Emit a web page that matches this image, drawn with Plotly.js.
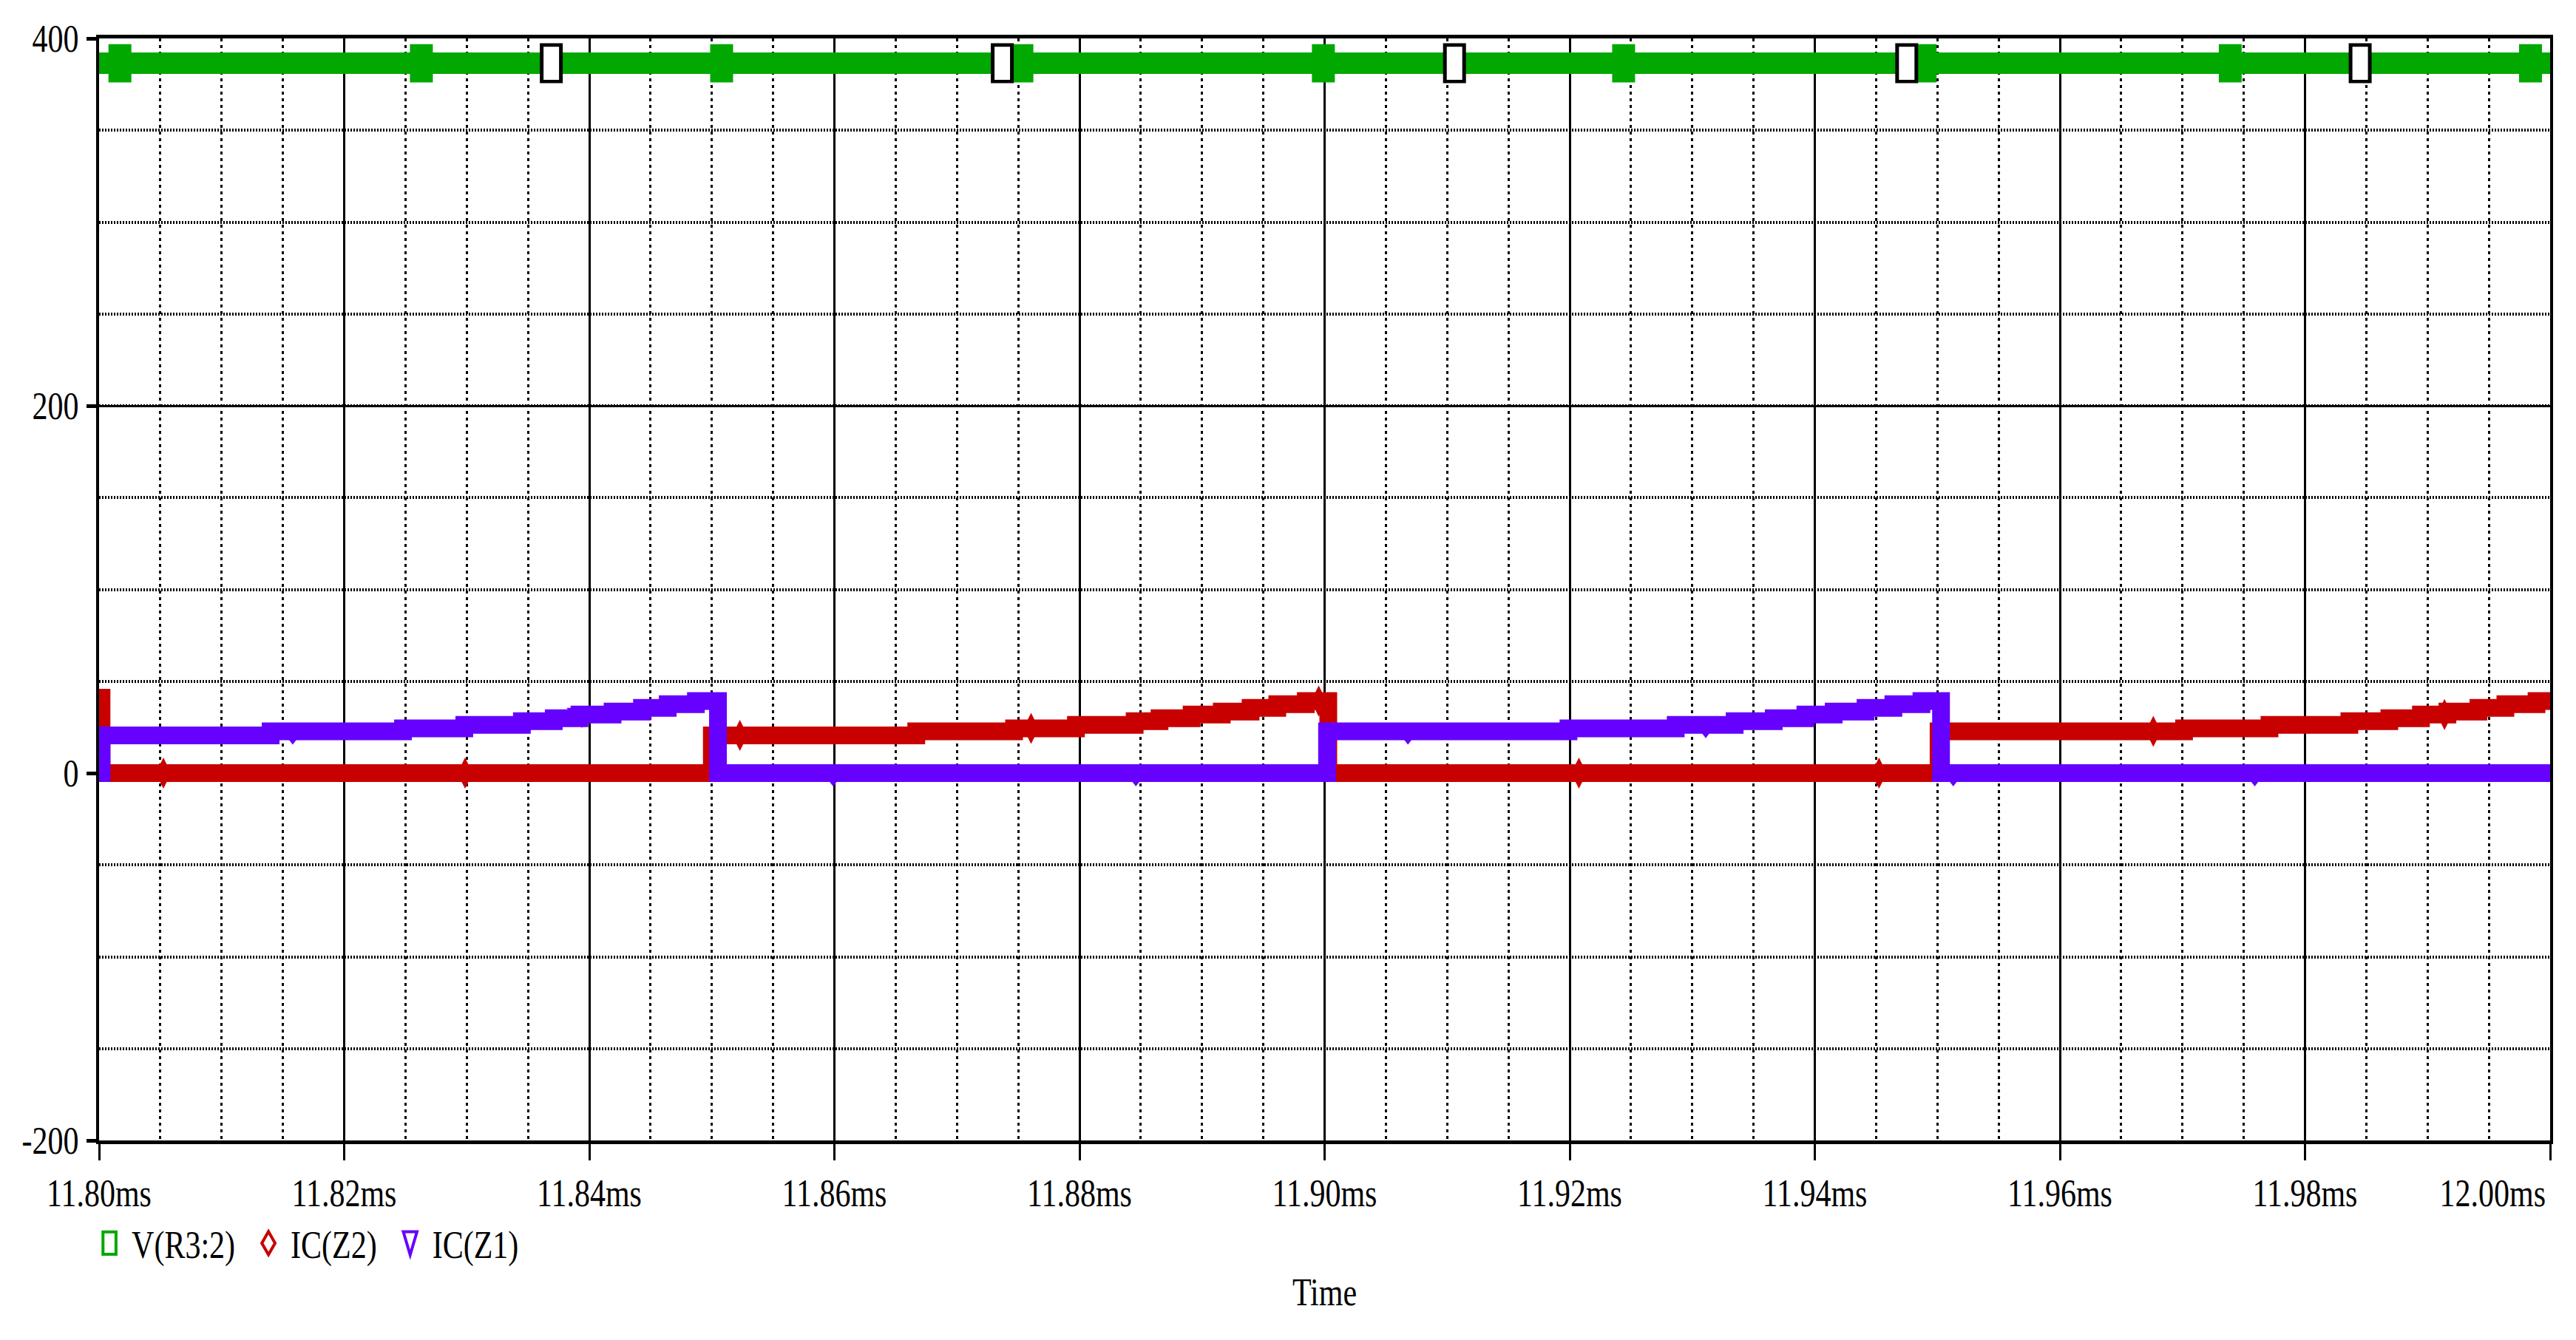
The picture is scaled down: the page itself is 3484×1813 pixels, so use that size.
<!DOCTYPE html>
<html>
<head>
<meta charset="utf-8">
<script src="https://cdn.plot.ly/plotly-3.0.1.min.js"></script>
<style>
  html, body { margin: 0; padding: 0; background: #ffffff; }
  #chart { width: 3484px; height: 1813px; }
</style>
</head>
<body>
<div id="chart"></div>
<script>
// ---------------- data (time in ms) ----------------
const seriesNames = ['V(R3:2)', 'IC(Z2)', 'IC(Z1)'];

const vR3Time  = [11.80, 12.00];
const vR3Value = [386.5, 386.5];

const icZ2Time  = [11.8000, 11.8002, 11.8500, 11.86668, 11.87466, 11.87971, 11.88450, 11.88653, 11.88915, 11.89161, 11.89396, 11.89614, 11.89847, 11.9003,
                   11.9501, 11.97013, 11.97710, 11.98362, 11.98688, 11.98946, 11.99162, 11.99415, 11.99635, 11.99889, 12.0000];
const icZ2Value = [41, 0, 20.5, 22.7, 24.3, 26.3, 28.3, 29.9, 31.9, 33.5, 35.5, 37.5, 39.2, 0,
                   22.7, 24.3, 26.3, 28.3, 29.9, 31.9, 33.5, 35.5, 37.5, 39.2, 39.2];

const icZ1Time  = [11.8000, 11.8002, 11.8140, 11.8248, 11.8298, 11.8345, 11.8371, 11.8392, 11.8419, 11.8443, 11.8464, 11.8487, 11.8505,
                   11.9002, 11.9199, 11.92865, 11.93346, 11.93665, 11.93923, 11.94154, 11.94414, 11.94641, 11.94870, 11.9503, 12.0000];
const icZ1Value = [0, 20.5, 22.7, 24.3, 26.3, 28.3, 29.9, 31.9, 33.5, 35.5, 37.5, 39.2, 0,
                   22.7, 24.3, 26.3, 28.3, 29.9, 31.9, 33.5, 35.5, 37.5, 39.2, 0, 0];

// symbol markers drawn along each trace
const vR3FilledTimes  = [11.8017, 11.8263, 11.8508, 11.8753, 11.8999, 11.9244, 11.9490, 11.9739, 11.9984];
const vR3FilledValues = [386.5, 386.5, 386.5, 386.5, 386.5, 386.5, 386.5, 386.5, 386.5];
const vR3HollowTimes  = [11.8369, 11.8737, 11.9106, 11.9475, 11.9845];
const vR3HollowValues = [386.5, 386.5, 386.5, 386.5, 386.5];
const icZ2MarkTimes   = [11.80525, 11.82986, 11.85229, 11.87605, 11.89952, 11.92075, 11.94524, 11.96762, 11.99138];
const icZ2MarkValues  = [0, 0, 20.5, 24.3, 39.2, 0, 0, 22.7, 31.9];
const icZ1MarkTimes   = [11.8158, 11.8394, 11.8599, 11.8846, 11.9068, 11.9311, 11.9513, 11.9759];
const icZ1MarkValues  = [22.7, 31.9, 0, 0, 22.7, 26.3, 0, 0];

// axes ticks
const xTickVals = [11.80, 11.82, 11.84, 11.86, 11.88, 11.90, 11.92, 11.94, 11.96, 11.98, 12.00];
const xTickText = ['11.80ms', '11.82ms', '11.84ms', '11.86ms', '11.88ms', '11.90ms', '11.92ms', '11.94ms', '11.96ms', '11.98ms', '12.00ms'];
const yTickVals = [-200, 0, 200, 400];
const yTickText = ['-200', '0', '200', '400'];

// ---------------- styles ----------------
const GREEN = '#00a800', RED = '#c80000', PURPLE = '#6600ff';
const FONT = { family: 'Liberation Serif, DejaVu Serif, serif', size: 42, color: '#000000' };

const traces = [
  { type: 'scatter', mode: 'lines', x: vR3Time, y: vR3Value, line: { color: GREEN, width: 29 }, showlegend: false },
  { type: 'scatter', mode: 'markers', x: vR3FilledTimes, y: vR3FilledValues, cliponaxis: false, showlegend: false,
    marker: { symbol: 'line-ns', size: 37, color: GREEN, line: { color: GREEN, width: 31 } } },
  { type: 'scatter', mode: 'markers', x: vR3HollowTimes, y: vR3HollowValues, cliponaxis: false, showlegend: false,
    marker: { symbol: 'line-ns', size: 38.6, color: '#000', line: { color: '#000', width: 31 } } },
  { type: 'scatter', mode: 'markers', x: vR3HollowTimes, y: vR3HollowValues, cliponaxis: false, showlegend: false,
    marker: { symbol: 'line-ns', size: 32, color: '#fff', line: { color: '#fff', width: 21 } } },

  { type: 'scatter', mode: 'lines', x: icZ2Time, y: icZ2Value, line: { color: RED, width: 24, shape: 'hv' }, showlegend: false },
  { type: 'scatter', mode: 'markers', x: icZ2MarkTimes, y: icZ2MarkValues, showlegend: false,
    marker: { symbol: 'diamond-tall', size: 30, color: RED, line: { width: 0 } } },

  { type: 'scatter', mode: 'lines', x: icZ1Time, y: icZ1Value, line: { color: PURPLE, width: 24, shape: 'hv' }, showlegend: false },
  { type: 'scatter', mode: 'markers', x: icZ1MarkTimes, y: icZ1MarkValues, showlegend: false,
    marker: { symbol: 'triangle-down', size: 36, color: PURPLE, line: { width: 0 } } },

  // legend entries (symbols only, as in the original)
  { type: 'scatter', mode: 'markers', name: seriesNames[0], x: vR3HollowTimes, y: vR3HollowValues, visible: 'legendonly',
    marker: { symbol: 'square-open', size: 16, color: GREEN, line: { width: 4, color: GREEN } } },
  { type: 'scatter', mode: 'markers', name: seriesNames[1], x: icZ2MarkTimes, y: icZ2MarkValues, visible: 'legendonly',
    marker: { symbol: 'diamond-tall-open', size: 16, color: RED, line: { width: 4, color: RED } } },
  { type: 'scatter', mode: 'markers', name: seriesNames[2], x: icZ1MarkTimes, y: icZ1MarkValues, visible: 'legendonly',
    marker: { symbol: 'triangle-down-open', size: 16, color: PURPLE, line: { width: 4, color: PURPLE } } }
];

const layout = {
  width: 3484, height: 1813,
  margin: { l: 134, r: 35, t: 52, b: 270, pad: 0 },
  paper_bgcolor: '#ffffff', plot_bgcolor: '#ffffff',
  showlegend: true,
  legend: { orientation: 'h', x: -0.0048, xanchor: 'left', y: -0.0933, yanchor: 'middle', font: FONT,
            itemwidth: 50, bgcolor: 'rgba(0,0,0,0)', traceorder: 'normal' },
  xaxis: {
    range: [11.80, 12.00], tickmode: 'array', tickvals: xTickVals, ticktext: xTickText,
    ticks: 'outside', ticklen: 22, tickwidth: 3, tickcolor: '#000',
    showline: true, linewidth: 5, linecolor: '#000', mirror: true,
    showgrid: true, gridcolor: '#000', gridwidth: 3, zeroline: false, layer: 'below traces',
    tickfont: FONT, ticklabelstandoff: 8, ticklabeloverflow: 'allow',
    title: { text: 'Time', font: FONT, standoff: 98 },
    minor: { tickmode: 'linear', tick0: 11.80, dtick: 0.005, showgrid: true, gridcolor: '#000', gridwidth: 3, griddash: '4px,5px', ticks: '' },
    fixedrange: true
  },
  yaxis: {
    range: [-200, 400], tickmode: 'array', tickvals: yTickVals, ticktext: yTickText,
    ticks: 'outside', ticklen: 13, tickwidth: 5, tickcolor: '#000',
    showline: true, linewidth: 4, linecolor: '#000', mirror: true,
    showgrid: true, gridcolor: '#000', gridwidth: 3, zeroline: false, layer: 'below traces',
    tickfont: FONT, ticklabelstandoff: 2,
    minor: { tickmode: 'linear', tick0: -200, dtick: 50, showgrid: true, gridcolor: '#000', gridwidth: 4, griddash: '2px,2px', ticks: '' },
    fixedrange: true
  }
};

const gd = document.getElementById('chart');
Plotly.newPlot(gd, traces, layout, { staticPlot: true, displayModeBar: false }).then(() => {
  // the original keeps its last time label inside the plot's right edge
  const xLabels = gd.querySelectorAll('.xtick text');
  if (xLabels.length) {
    const last = xLabels[xLabels.length - 1];
    const w = last.getBBox().width;
    const tr0 = last.getAttribute('transform') || '';
    last.setAttribute('transform', (tr0 + ' translate(' + (-(w / 2) - 6) + ',0)').trim());
  }
  // the original uses tall, narrow glyphs: stretch every text vertically about its centre
  const k = 1.25;
  gd.querySelectorAll('.main-svg text').forEach(t => {
    if (!t.textContent.trim()) return;
    const bb = t.getBBox();
    const cy = bb.y + bb.height / 2;
    const tr = t.getAttribute('transform') || '';
    t.setAttribute('transform', (tr + ' translate(0,' + cy + ') scale(1,' + k + ') translate(0,' + (-cy) + ')').trim());
  });
  // legend entries at full opacity, a little wider apart, with tall symbols
  gd.querySelectorAll('.legend [clip-path]').forEach(e => e.removeAttribute('clip-path'));
  const symScale = [[1.1, 1.9, 0], [1.6, 1.4, 0], [1.0, 2.6, -5]];
  const extraGap = 10;
  gd.querySelectorAll('.legend .traces').forEach((g, i) => {
    g.style.opacity = 1;
    const gt = g.getAttribute('transform') || '';
    g.setAttribute('transform', gt + ' translate(' + (i * extraGap) + ',0)');
    const s = symScale[i] || [1, 1, 0];
    g.querySelectorAll('.legendpoints path').forEach(p => {
      const tr = p.getAttribute('transform') || '';
      p.setAttribute('transform', tr + ' translate(0,' + s[2] + ') scale(' + s[0] + ',' + s[1] + ')');
      p.setAttribute('vector-effect', 'non-scaling-stroke');
    });
  });
});
</script>
</body>
</html>
